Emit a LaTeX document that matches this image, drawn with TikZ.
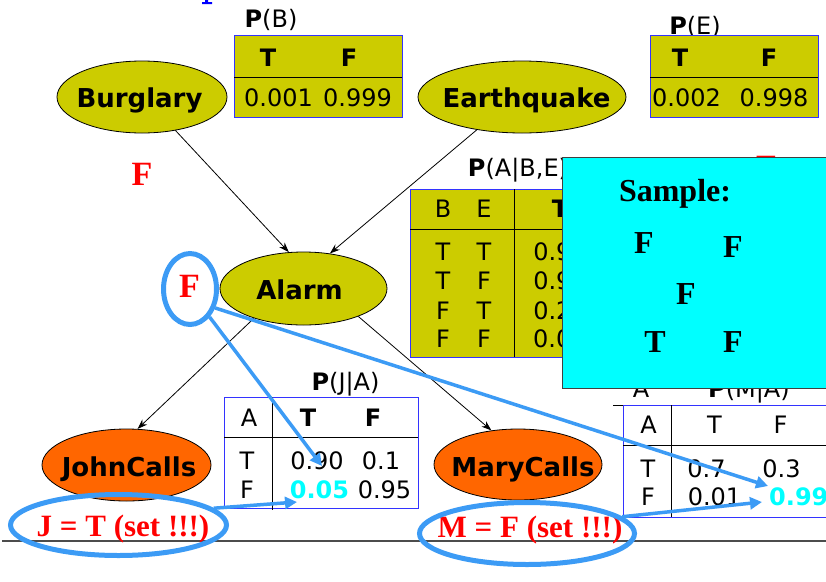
\documentclass[tikz,border=0pt]{standalone}
\usepackage{fontspec}
\setmainfont{Liberation Serif}
\newfontfamily\dv{DejaVu Sans}
\usetikzlibrary{shapes.geometric,arrows.meta}
\definecolor{nodeolive}{RGB}{204,204,0}
\definecolor{nodeorange}{RGB}{255,102,0}
\definecolor{selblue}{RGB}{60,155,245}
\definecolor{tblblue}{RGB}{51,51,255}
\definecolor{titleblue}{RGB}{0,0,255}
\definecolor{boxcyan}{RGB}{0,255,255}
\definecolor{redtxt}{RGB}{255,0,0}
\begin{document}
\begin{tikzpicture}[x=1pt,y=-1pt,
  tx/.style={inner sep=0pt,text depth=0pt,text height=17.5pt,font=\dv\fontsize{24}{28}\selectfont},
  txb/.style={tx,font=\dv\bfseries\fontsize{24}{28}\selectfont},
  hi/.style={txb,text=boxcyan},
  net/.style={ellipse,draw=black,line width=0.8pt,inner sep=0pt},
  netlbl/.style={inner sep=0pt,text height=19pt,text depth=0pt,font=\dv\bfseries\fontsize{26}{30}\selectfont},
  rv/.style={inner sep=0pt,text depth=0pt,text height=22.5pt,text=redtxt,font=\bfseries\fontsize{34}{40}\selectfont},
  sv/.style={inner sep=0pt,text depth=0pt,text height=21pt,font=\bfseries\fontsize{32}{38}\selectfont},
  setv/.style={inner sep=0pt,text depth=0pt,text height=21pt,text=redtxt,font=\bfseries\fontsize{31}{36}\selectfont},
  tbl/.style={draw=tblblue,line width=1pt},
  divl/.style={draw=black,line width=1pt},
  conn/.style={-{Stealth[length=10pt,width=7pt]},line width=0.8pt},
  ring/.style={ellipse,draw=selblue,line width=5pt,inner sep=0pt},
  bluearrow/.style={-{Triangle[length=12pt,width=12pt]},draw=selblue,fill=selblue,line width=3.5pt}]
\useasboundingbox (0,0) rectangle (826,581);
\clip (0,0) rectangle (826,581);

% title fragment (cut off at the top)
\fill[titleblue] (205,0) rectangle (208,2) (202,2) rectangle (212,4);

% P(B)
\node[tx] (pbl) at (271,18.5) {{\bfseries P}(B)};
\draw[tbl,fill=nodeolive] (234,35) rectangle (402,117);
\draw[divl] (234,77) -- (402,77);
\node[txb] (pbT) at (268,58) {T};
\node[txb] (pbF) at (349,58) {F};
\node[tx] (pbv1) at (278.5,98) {0.001};
\node[tx] (pbv2) at (357.5,98) {0.999};

% P(E)
\node[tx] (pel) at (695,25.5) {{\bfseries P}(E)};
\draw[tbl,fill=nodeolive] (650,35) rectangle (818,117);
\draw[divl] (650,77) -- (818,77);
\node[txb] (peT) at (680,58) {T};
\node[txb] (peF) at (769,58) {F};
\node[tx] (pev1) at (686.5,98) {0.002};
\node[tx] (pev2) at (774,98) {0.998};

% P(A|B,E)
\node[tx] (pal) at (518,167.5) {{\bfseries P}(A|B,E)};
\draw[tbl,fill=nodeolive] (410,189) rectangle (700,357);
\draw[divl] (410,229) -- (700,229);
\draw[divl] (514,189) -- (514,357);
\node[tx] (paB) at (443,208.5) {B};
\node[tx] (paE) at (484,208.5) {E};
\node[txb] (paT) at (560,208.5) {T};
\node[tx] (pa11) at (443,252) {T};   \node[tx] (pa12) at (484,252) {T};
\node[tx] (pa21) at (443,280.5) {T}; \node[tx] (pa22) at (484,280.5) {F};
\node[tx] (pa31) at (443,310.5) {F}; \node[tx] (pa32) at (484,310.5) {T};
\node[tx] (pa41) at (443,338.5) {F}; \node[tx] (pa42) at (484,338.5) {F};
\node[tx] (pa13) at (560,252) {0.95};
\node[tx] (pa23) at (560,280.5) {0.94};
\node[tx] (pa33) at (560,310.5) {0.29};
\node[tx,anchor=west] (pa43) at (533,338.5) {0.001};

% P(J|A)
\node[tx] (pjl) at (345.5,381.5) {{\bfseries P}(J|A)};
\draw[tbl,fill=white] (224,397) rectangle (418,508);
\draw[divl] (224,437) -- (418,437);
\draw[divl] (272,397) -- (272,510);
\node[tx] (pjA) at (249,418) {A};
\node[txb] (pjT) at (308,418) {T};
\node[txb] (pjF) at (373,418) {F};
\node[tx] (pj1) at (247,461) {T};
\node[tx] (pj2) at (247,489.5) {F};
\node[tx] (pj11) at (317,461) {0.90};
\node[tx] (pj12) at (381,461) {0.1};
\node[hi] (pj21) at (319.5,489.5) {0.05};
\node[tx] (pj22) at (384.5,489.5) {0.95};

% P(M|A)
\node[tx] (pmA0) at (641,389) {A};
\node[tx] (pml) at (749,389) {{\bfseries P}(M|A)};
\draw[divl] (613,405) -- (826,405);
\draw[tbl,fill=white] (623,405.5) rectangle (826,517);
\draw[divl] (623,445) -- (826,445);
\draw[divl] (671,405) -- (671,517);
\node[tx] (pmA) at (648.5,425) {A};
\node[tx] (pmT) at (714.5,425) {T};
\node[tx] (pmF) at (780.5,425) {F};
\node[tx] (pm1) at (648,468.5) {T};
\node[tx] (pm2) at (648,496.5) {F};
\node[tx] (pm11) at (706.5,468.5) {0.7};
\node[tx] (pm12) at (781.5,468.5) {0.3};
\node[tx] (pm21) at (714.5,496.5) {0.01};
\node[hi,anchor=west] (pm22) at (769,496.5) {0.99};

% network nodes
\node[net,fill=nodeolive,minimum width=170pt,minimum height=72pt] (burglary) at (142,97) {};
\node[net,fill=nodeolive,minimum width=208pt,minimum height=72pt] (earthquake) at (522,97) {};
\node[net,fill=nodeolive,minimum width=167pt,minimum height=73pt] (alarm) at (303.5,288.5) {};
\node[net,fill=nodeorange,minimum width=169pt,minimum height=72pt] (john) at (126.5,465) {};
\node[net,fill=nodeorange,minimum width=168pt,minimum height=71pt] (mary) at (518,464.5) {};
\node[netlbl] (burglaryT) at (139.5,98) {Burglary};
\node[netlbl] (earthquakeT) at (526.5,98) {Earthquake};
\node[netlbl] (alarmT) at (299.5,289.5) {Alarm};
\node[netlbl] (johnT) at (129,467) {JohnCalls};
\node[netlbl] (maryT) at (523,467) {MaryCalls};

\draw[conn] (burglary.-45) -- (alarm.112);
\draw[conn] (earthquake.-144) -- (alarm.53);
\draw[conn] (alarm.-149) -- (john.73);
\draw[conn] (alarm.-27) -- (mary.128);

% red samples
\node[rv] (fB) at (142,174) {F};
\node[rv] (fE) at (766.5,167) {F};
\node[rv] (fA) at (189.5,286.5) {F};

% sample box
\node[draw=black!75,line width=1.2pt,fill=boxcyan,anchor=north west,minimum width=264pt,minimum height=231pt,inner sep=0pt] (samplebox) at (562,157) {};
\node[sv] (samplet) at (675,190.5) {Sample:};
\node[sv] (s1) at (644,243) {F};
\node[sv] (s2) at (733,247) {F};
\node[sv] (s3) at (686,294) {F};
\node[sv] (s4) at (655,342) {T};
\node[sv] (s5) at (733,342) {F};

% bottom rule
\coordinate (ruleL) at (2,541);
\coordinate (ruleR) at (826,541);
\draw[line width=1.5pt,draw=black!70] (ruleL) -- (ruleR);

% evidence
\node[setv] (jset) at (123,526) {J = T (set !!!)};
\node[setv] (mset) at (530,527) {M = F (set !!!)};

% highlight rings
\node[ring,minimum width=53pt,minimum height=71pt] (ringA) at (190,289) {};
\node[ring,minimum width=216pt,minimum height=61pt] (ringJ) at (118.5,525) {};
\node[ring,minimum width=215pt,minimum height=62pt] (ringM) at (527,533.5) {};

\coordinate (tipJa) at (322,466);
\coordinate (tipMa) at (768,486);
\coordinate (tipJs) at (297,502);
\coordinate (tipMs) at (762,502);
\draw[bluearrow] (ringA.-55) -- (tipJa);
\draw[bluearrow] (ringA.-37) -- (tipMa);
\draw[bluearrow] (ringJ.10) -- (tipJs);
\draw[bluearrow] (ringM.10) -- (tipMs);
\end{tikzpicture}
\end{document}
